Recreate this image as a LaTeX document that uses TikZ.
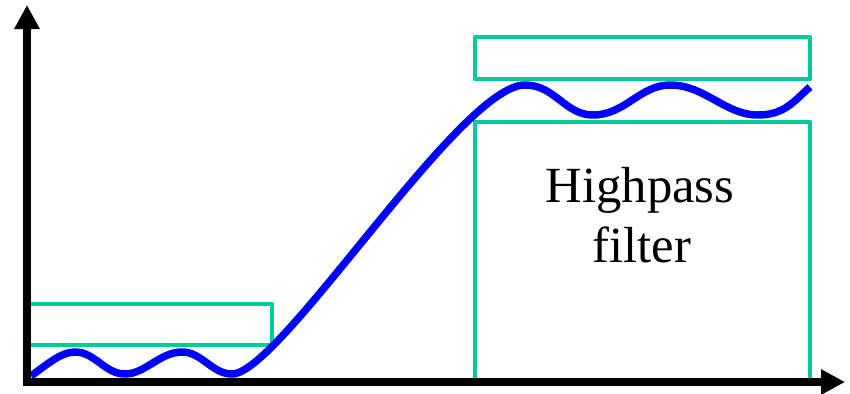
\documentclass[tikz,border=0pt]{standalone}
\usepackage{fontspec}
\setmainfont{Liberation Serif}
\usetikzlibrary{arrows.meta}
\definecolor{bandgreen}{HTML}{00CC99}
\definecolor{curveblue}{HTML}{0000FF}
\begin{document}
\begin{tikzpicture}[x=0.75pt,y=-0.75pt,
  band/.style={draw=bandgreen,line width=3.4pt,line join=round},
  axis/.style={line width=6pt,-{Triangle[length=18pt,width=18pt]}},
  resp/.style={draw=curveblue,line width=5.6pt},
  lbl/.style={font=\fontsize{38}{45}\selectfont,anchor=base,inner sep=0pt}]
\useasboundingbox (0,0) rectangle (850,393);
% tolerance bands
\draw[band] (27,304) rectangle (272,345);
\draw[band] (475,37) rectangle (810,79);
\draw[band] (475,122) rectangle (810,382);
% response curve
\draw[resp] (31,376) .. controls (50,362) and (62,352) .. (75,352)
  .. controls (95,352) and (105,374) .. (125,374)
  .. controls (145,374) and (160,352) .. (182,352)
  .. controls (202,352) and (212,374) .. (232,374)
  .. controls (280,374) and (460,85) .. (525,85)
  .. controls (555,85) and (565,115) .. (593,115)
  .. controls (625,115) and (640,85) .. (670,85)
  .. controls (705,85) and (725,115) .. (758,115)
  .. controls (785,115) and (795,100) .. (810,87);
% axes
\coordinate (o) at (27,382);
\coordinate (ytip) at (27,5);
\coordinate (xtip) at (845,382);
\draw[axis] (23,382) -- (xtip);
\draw[axis] (27,386) -- (ytip);
% label
\node[lbl] (l1) at (640,202) {Highpass};
\node[lbl] (l2) at (642,262) {filter};
\end{tikzpicture}
\end{document}
